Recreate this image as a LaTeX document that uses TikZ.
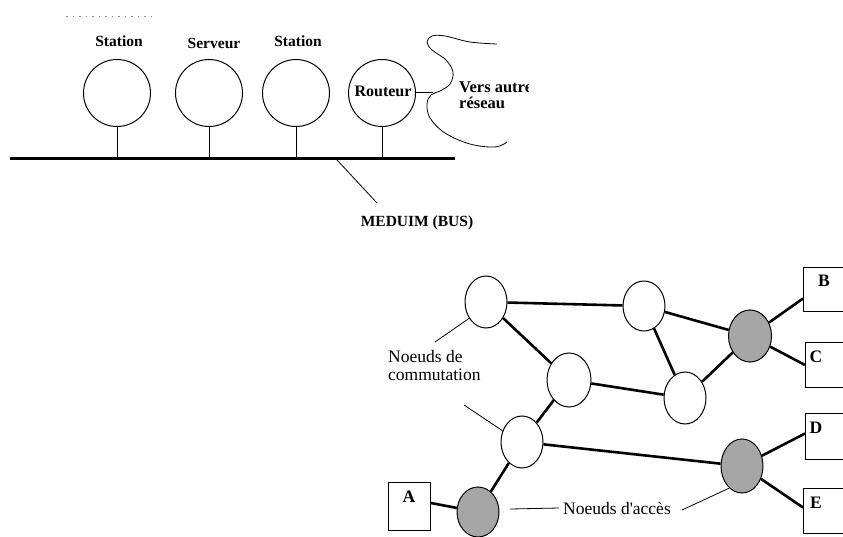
\documentclass[tikz,border=0pt]{standalone}
\usepackage{fontspec}
\setmainfont{Liberation Serif}
\usetikzlibrary{shapes.geometric}

\tikzset{
  toplabel/.style={font=\fontsize{15.5}{18}\selectfont\bfseries, inner sep=0pt, anchor=base},
  biglabel/.style={toplabel, font=\fontsize{16.5}{19}\selectfont\bfseries},
  host/.style={circle, draw, line width=1pt, minimum size=67pt, inner sep=0pt},
  stem/.style={line width=1pt},
  bus/.style={line width=3pt},
  thin/.style={line width=0.8pt},
  swnode/.style={ellipse, draw, line width=1pt, fill=white, inner sep=0pt, minimum width=42pt, minimum height=52pt},
  accnode/.style={swnode, fill=black!35},
  link/.style={line width=2.6pt},
  term/.style={rectangle, draw, line width=1pt, inner sep=0pt, anchor=north west},
  termlabel/.style={font=\fontsize{17.5}{20}\selectfont\bfseries, inner sep=0pt, anchor=base},
  note/.style={font=\fontsize{17.5}{20}\selectfont, inner sep=0pt, anchor=base west},
}

\begin{document}
\begin{tikzpicture}[x=1pt, y=-1pt]
\useasboundingbox (0,0) rectangle (843,537);
\clip (0,0) rectangle (843,537);

% ---------------- bus network ----------------
\begin{scope}
\clip (0,0) rectangle (528,245);

\draw[black!45, line width=0.8pt, dash pattern=on 1.5pt off 5pt] (66,16) -- (157,16);

\node[toplabel] (lS1) at (119,46.5) {Station};
\node[toplabel] (lSv) at (214,49) {Serveur};
\node[toplabel] (lS2) at (298,46.5) {Station};

\node[host] (h1) at (117,93) {};
\node[host] (h2) at (209,93) {};
\node[host] (h3) at (296,93) {};
\node[host] (h4) at (382,93) {};
\node[toplabel, font=\fontsize{16}{19}\selectfont\bfseries] (lR) at (383,97) {Routeur};

\coordinate (busL) at (10,159);
\coordinate (busR) at (455,159);
\draw[bus] (busL) -- (busR);

\foreach \h in {h1,h2,h3,h4}
  \draw[stem] (\h.south) -- (\h.south |- busL);

% pointer to the medium
\coordinate (mA) at (337,160);
\coordinate (mB) at (377,203);
\draw[thin] (mA) -- (mB);
\node[toplabel] (lM) at (417,227) {MEDUIM (BUS)};

% link from the router to the other network
\coordinate (gw) at (433,93);
\draw[stem] (h4.east) -- (gw);

\draw[thin] plot[smooth, tension=0.6] coordinates {
  (497,44) (470,42) (445,36) (432,36) (427,42) (432,50) (446,60) (453,72)
  (450,84) (440,91) (431,95) (427,104) (430,118) (445,133) (470,144)
  (495,147) (507,142)};

\node[biglabel, anchor=base west] (lV1) at (459,93) {Vers autre};
\node[biglabel, anchor=base west] (lV2) at (459,108.5) {réseau};
\end{scope}

% ---------------- meshed network ----------------
\node[swnode] (N1) at (486,302) {};
\node[swnode, minimum height=50pt] (N2) at (644,306) {};
\node[accnode, minimum width=43pt] (G1) at (750,336) {};
\node[swnode, minimum width=44pt, minimum height=54pt] (N3) at (569,380) {};
\node[swnode] (N4) at (685,398) {};
\node[swnode] (N5) at (522,442) {};
\node[accnode, minimum height=54pt] (G2) at (742,466) {};
\node[accnode, minimum height=50pt] (G3) at (478,512) {};

\node[term, minimum width=42pt, minimum height=48pt] (A) at (388,482) {};
\node[term, minimum width=46pt, minimum height=44pt] (B) at (803,267) {};
\node[term, minimum width=46pt, minimum height=45pt] (C) at (805,342) {};
\node[term, minimum width=46pt, minimum height=46pt] (D) at (805,413) {};
\node[term, minimum width=46pt, minimum height=45pt] (E) at (803,488) {};

\node[termlabel] (tA) at (409,502) {A};
\node[termlabel] (tB) at (824,287) {B};
\node[termlabel] (tC) at (816,362) {C};
\node[termlabel] (tD) at (816,433) {D};
\node[termlabel] (tE) at (816,508) {E};

\draw[link] (N1) -- (N2);
\draw[link] (N1) -- (N3);
\draw[link] (N2) -- (G1);
\draw[link] (N2) -- (N4);
\draw[link] (N3) -- (N4);
\draw[link] (N4) -- (G1);
\draw[link] (N3) -- (N5);
\draw[link] (N5) -- (G2);
\draw[link] (N5) -- (G3);
\draw[link] (G1) -- ([yshift=-9pt]B.west);
\draw[link] (G1) -- (C.west);
\draw[link] (G2) -- ([yshift=3pt]D.west);
\draw[link] (G2) -- ([yshift=3.5pt]E.west);
\draw[link] ([yshift=3.5pt]A.east) -- (G3);

% annotations
\node[note] (nc1) at (388,362) {Noeuds de};
\node[note] (nc2) at (388,380) {commutation};
\node[note, anchor=base] (na) at (617,514) {Noeuds d\textquotesingle accès};

\coordinate (p1) at (435,342);
\coordinate (p2) at (464,405);
\coordinate (p3) at (510,509);
\coordinate (p3b) at (559,508);
\coordinate (p4) at (682,510);
\draw[thin] (p1) -- (N1.224);
\draw[thin] (p2) -- (N5.150);
\draw[thin] (p3) -- (p3b);
\draw[thin] (p4) -- (G2.240);
\end{tikzpicture}
\end{document}
